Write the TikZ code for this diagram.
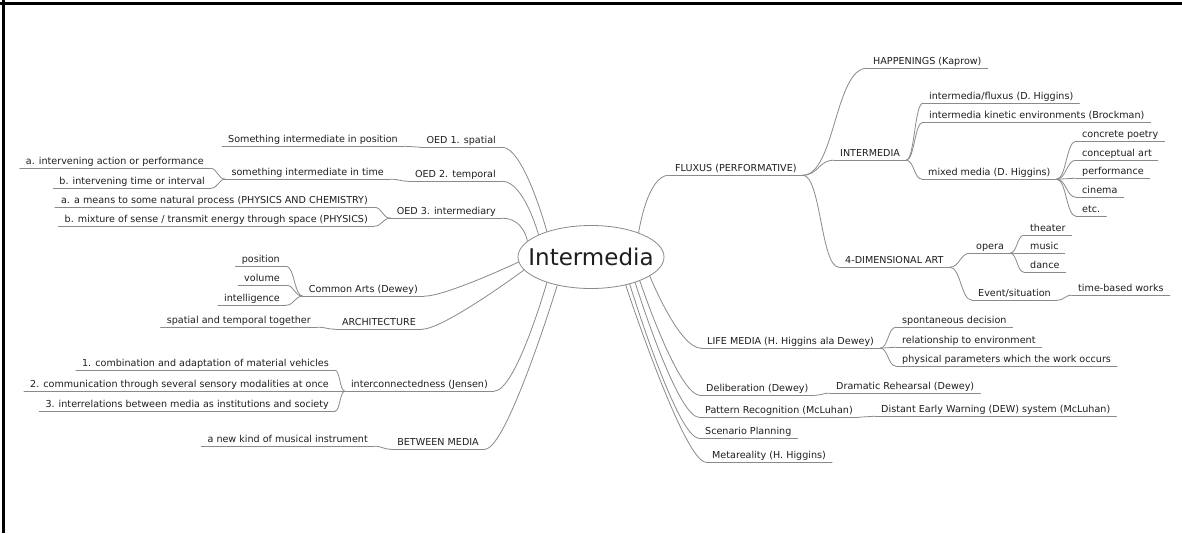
\documentclass[tikz,border=0pt]{standalone}
\usepackage{fontspec}
\setmainfont{DejaVu Sans}
\usetikzlibrary{shapes.geometric,calc}
\definecolor{ink}{HTML}{1E1E1E}
\definecolor{wire}{HTML}{8A8A8A}
\newcommand\mmfont{\fontsize{9.6}{11}\selectfont}
\newcommand\hubfont{\fontsize{23}{26}\selectfont}
\begin{document}
\begin{tikzpicture}[x=1pt,y=-1pt,
  lbl/.style={font=\mmfont, text=ink, inner xsep=6pt, inner ysep=1.5pt,
              text height=7.3pt, text depth=2pt},
  rt/.style={lbl, anchor=base west},
  lt/.style={lbl, anchor=base east},
  wire/.style={draw=wire, line width=0.8pt, line cap=round},
  fork/.style={to path={let \p1=(\tikztostart), \p2=(\tikztotarget),
      \n1={0.5*(\x2-\x1)}, \n2={-0.5*(\x2-\x1)} in
      .. controls +(\n1,0) and ($(\tikztotarget)+(\n2,0)$) .. (\tikztotarget)}},
  hubR/.style={to path={.. controls (\tikztostart) and ($(\tikztotarget)+(-22,0)$) .. (\tikztotarget)}},
  hubL/.style={to path={.. controls (\tikztostart) and ($(\tikztotarget)+(22,0)$) .. (\tikztotarget)}},
]
\useasboundingbox (0,0) rectangle (1182,533);
\fill[white] (0,0) rectangle (1182,533);

% frame edges
\draw[line width=3pt] (0,3.5) -- (1182,3.5);
\draw[line width=3pt] (3.5,0) -- (3.5,533);

% central topic
\node[ellipse, draw=wire, line width=0.8pt, minimum width=146pt, minimum height=63pt, inner sep=0pt] (hub) at (591,257) {};
\node[font=\hubfont, text=ink, anchor=base, inner sep=0pt] (hubtext) at (591,265) {Intermedia};

% ---------- right branches ----------
\node[rt] (fluxus)     at (669,171.5) {FLUXUS (PERFORMATIVE)};
\node[rt] (happen)     at (867,64.5)  {HAPPENINGS (Kaprow)};
\node[rt] (intermedia) at (834,156.5) {INTERMEDIA};
\node[rt] (imfluxus)   at (923,99.5)  {intermedia/fluxus (D. Higgins)};
\node[rt] (kinetic)    at (923,118.5) {intermedia kinetic environments (Brockman)};
\node[rt] (mixed)      at (922,175.5) {mixed media (D. Higgins)};
\node[rt] (concrete)   at (1076,137.5) {concrete poetry};
\node[rt] (conceptual) at (1076,156.5) {conceptual art};
\node[rt] (perform)    at (1076,174.5) {performance};
\node[rt] (cinema)     at (1076,193.5) {cinema};
\node[rt] (etc)        at (1076,212.5) {etc.};
\node[rt] (fourd)      at (839,263.5) {4-DIMENSIONAL ART};
\node[rt] (opera)      at (970,249.5) {opera};
\node[rt] (theater)    at (1024,231.5) {theater};
\node[rt] (music)      at (1024,249.5) {music};
\node[rt] (dance)      at (1024,268.5) {dance};
\node[rt] (event)      at (972,296.5) {Event/situation};
\node[rt] (timebased)  at (1072,291.5) {time-based works};
\node[rt] (life)       at (701,344.5) {LIFE MEDIA (H. Higgins ala Dewey)};
\node[rt] (spont)      at (896,323.5) {spontaneous decision};
\node[rt] (relat)      at (896,343.5) {relationship to environment};
\node[rt] (phys)       at (896,362.5) {physical parameters which the work occurs};
\node[rt] (delib)      at (700,391.5) {Deliberation (Dewey)};
\node[rt] (dramatic)   at (830,389.5) {Dramatic Rehearsal (Dewey)};
\node[rt] (pattern)    at (699,413.5) {Pattern Recognition (McLuhan)};
\node[rt] (dew)        at (875,412.5) {Distant Early Warning (DEW) system (McLuhan)};
\node[rt] (scenario)   at (699,434.5) {Scenario Planning};
\node[rt] (meta)       at (706,458.5) {Metareality (H. Higgins)};

% ---------- left branches ----------
\node[lt] (oed1)     at (502,143.5) {OED 1. spatial};
\node[lt] (inpos)    at (404,142.5) {Something intermediate in position};
\node[lt] (oed2)     at (502,177.5) {OED 2. temporal};
\node[lt] (intime)   at (390,175.5) {something intermediate in time};
\node[lt] (actA)     at (210,164.5) {a. intervening action or performance};
\node[lt] (actB)     at (211,184.5) {b. intervening time or interval};
\node[lt] (oed3)     at (502,214.5) {OED 3. intermediary};
\node[lt] (procA)    at (374,203.5) {a. a means to some natural process (PHYSICS AND CHEMISTRY)};
\node[lt] (procB)    at (374,222.5) {b. mixture of sense / transmit energy through space (PHYSICS)};
\node[lt] (common)   at (424,292.5) {Common Arts (Dewey)};
\node[lt] (position) at (286,262.5) {position};
\node[lt] (volume)   at (286,281.5) {volume};
\node[lt] (intell)   at (286,301.5) {intelligence};
\node[lt] (arch)     at (422,325.5) {ARCHITECTURE};
\node[lt] (spatial)  at (317,323.5) {spatial and temporal together};
\node[lt] (jensen)   at (494,387.5) {interconnectedness (Jensen)};
\node[lt] (comb)     at (335,366.5) {1. combination and adaptation of material vehicles};
\node[lt] (comm)     at (335,387.5) {2. communication through several sensory modalities at once};
\node[lt] (inter)    at (335,407.5) {3. interrelations between media as institutions and society};
\node[lt] (between)  at (485,445.5) {BETWEEN MEDIA};
\node[lt] (newkind)  at (374,442.5) {a new kind of musical instrument};

% underlines
\foreach \n in {fluxus,happen,intermedia,imfluxus,kinetic,mixed,concrete,conceptual,
  perform,cinema,etc,fourd,opera,theater,music,dance,event,timebased,life,spont,relat,
  phys,delib,dramatic,pattern,dew,scenario,meta,oed1,inpos,oed2,intime,actA,actB,oed3,
  procA,procB,common,position,volume,intell,arch,spatial,jensen,comb,comm,inter,
  between,newkind}
  \draw[wire] (\n.south west) -- (\n.south east);

% hub connectors
\draw[wire] (hub.27)  to[hubR] (fluxus.south west);
\draw[wire] (hub.342) to[hubR] (life.south west);
\draw[wire] (hub.334) to[hubR] (delib.south west);
\draw[wire] (hub.330) to[hubR] (pattern.south west);
\draw[wire] (hub.325) to[hubR] (scenario.south west);
\draw[wire] (hub.321) to[hubR] (meta.south west);
\draw[wire] (hub.150) to[hubL] (oed1.south east);
\draw[wire] (hub.157) to[hubL] (oed2.south east);
\draw[wire] (hub.166) to[hubL] (oed3.south east);
\draw[wire] (hub.184) to[hubL] (common.south east);
\draw[wire] (hub.191) to[hubL] (arch.south east);
\draw[wire] (hub.210) to[hubL] (jensen.south east);
\draw[wire] (hub.220) to[hubL] (between.south east);

% right sub-branches
\foreach \c in {happen,intermedia,fourd}
  \draw[wire] (fluxus.south east) to[fork] (\c.south west);
\foreach \c in {imfluxus,kinetic,mixed}
  \draw[wire] (intermedia.south east) to[fork] (\c.south west);
\foreach \c in {concrete,conceptual,perform,cinema,etc}
  \draw[wire] (mixed.south east) to[fork] (\c.south west);
\foreach \c in {opera,event}
  \draw[wire] (fourd.south east) to[fork] (\c.south west);
\foreach \c in {theater,music,dance}
  \draw[wire] (opera.south east) to[fork] (\c.south west);
\draw[wire] (event.south east) to[fork] (timebased.south west);
\foreach \c in {spont,relat,phys}
  \draw[wire] (life.south east) to[fork] (\c.south west);
\draw[wire] (delib.south east) to[fork] (dramatic.south west);
\draw[wire] (pattern.south east) to[fork] (dew.south west);

% left sub-branches
\draw[wire] (oed1.south west) to[fork] (inpos.south east);
\draw[wire] (oed2.south west) to[fork] (intime.south east);
\foreach \c in {actA,actB}
  \draw[wire] (intime.south west) to[fork] (\c.south east);
\foreach \c in {procA,procB}
  \draw[wire] (oed3.south west) to[fork] (\c.south east);
\foreach \c in {position,volume,intell}
  \draw[wire] (common.south west) to[fork] (\c.south east);
\draw[wire] (arch.south west) to[fork] (spatial.south east);
\foreach \c in {comb,comm,inter}
  \draw[wire] (jensen.south west) to[fork] (\c.south east);
\draw[wire] (between.south west) to[fork] (newkind.south east);
\end{tikzpicture}
\end{document}
